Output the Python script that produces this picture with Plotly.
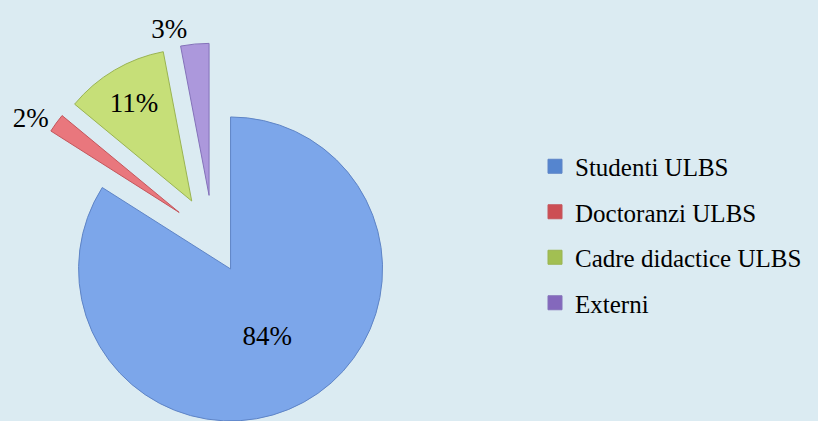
import math
import plotly.graph_objects as go

# ---- data ----
categories = ["Studenti ULBS", "Doctoranzi ULBS", "Cadre didactice ULBS", "Externi"]
values = [84, 2, 11, 3]

# ---- style ----
colors = ["#7CA6EA", "#E9777D", "#C6DF78", "#AC98DC"]
edge_colors = ["#5E84C6", "#C4565C", "#9AB452", "#8472BA"]
legend_colors = ["#5585CF", "#CC4E54", "#A2BF52", "#8468BC"]
explode = [0.24, 0.275, 0.275, 0.275]
text_pos = ["inside", "outside", "inside", "outside"]

W, H = 818, 421
CX, CY, R = 213, 237, 152
BG = "#DBEBF2"
FONT = "Liberation Serif"

total = float(sum(values))
fig = go.Figure()

cum = 0.0
n = len(values)
for i, v in enumerate(values):
    mid = (cum + v / 2.0) / total * 2 * math.pi
    cum += v
    # exploded slice centre (clockwise from 12 o'clock)
    cx = CX + explode[i] * R * math.sin(mid)
    cy = CY - explode[i] * R * math.cos(mid)
    dom_x = [max(0.0, (cx - R) / W), min(1.0, (cx + R) / W)]
    dom_y = [max(0.0, (H - cy - R) / H), min(1.0, (H - cy + R) / H)]
    fig.add_trace(go.Pie(
        labels=categories,
        values=values,
        sort=False,
        direction="clockwise",
        rotation=0,
        domain=dict(x=dom_x, y=dom_y),
        marker=dict(
            colors=[colors[j] if j == i else "rgba(0,0,0,0)" for j in range(n)],
            line=dict(color=[edge_colors[j] if j == i else "rgba(0,0,0,0)" for j in range(n)],
                      width=[1 if j == i else 0 for j in range(n)]),
        ),
        texttemplate=["%{percent:.0%}" if j == i else "" for j in range(n)],
        textposition=[text_pos[j] if j == i else "none" for j in range(n)],
        insidetextorientation="horizontal",
        textfont=dict(family=FONT, size=27, color="#000000"),
        hoverinfo="skip",
        showlegend=False,
    ))

# legend entries
for i, name in enumerate(categories):
    fig.add_trace(go.Scatter(
        x=[None], y=[None], mode="markers", name=name,
        legendgroup=name,
        marker=dict(symbol="square", size=14, color=legend_colors[i],
                    line=dict(color=edge_colors[i], width=1)),
        hoverinfo="skip", showlegend=True,
    ))

fig.update_layout(
    width=W, height=H,
    margin=dict(l=0, r=0, t=0, b=0),
    paper_bgcolor=BG, plot_bgcolor=BG,
    xaxis=dict(visible=False), yaxis=dict(visible=False),
    showlegend=True,
    legend=dict(
        x=535 / W, xanchor="left", y=1 - 234.5 / H, yanchor="middle",
        font=dict(family=FONT, size=25, color="#000000"),
        tracegroupgap=10, bgcolor="rgba(0,0,0,0)", traceorder="grouped",
    ),
)

fig.write_html(
    "out.html",
    config={"displayModeBar": False},
    post_script="document.body.style.margin='0px';document.body.style.overflow='hidden';",
)
